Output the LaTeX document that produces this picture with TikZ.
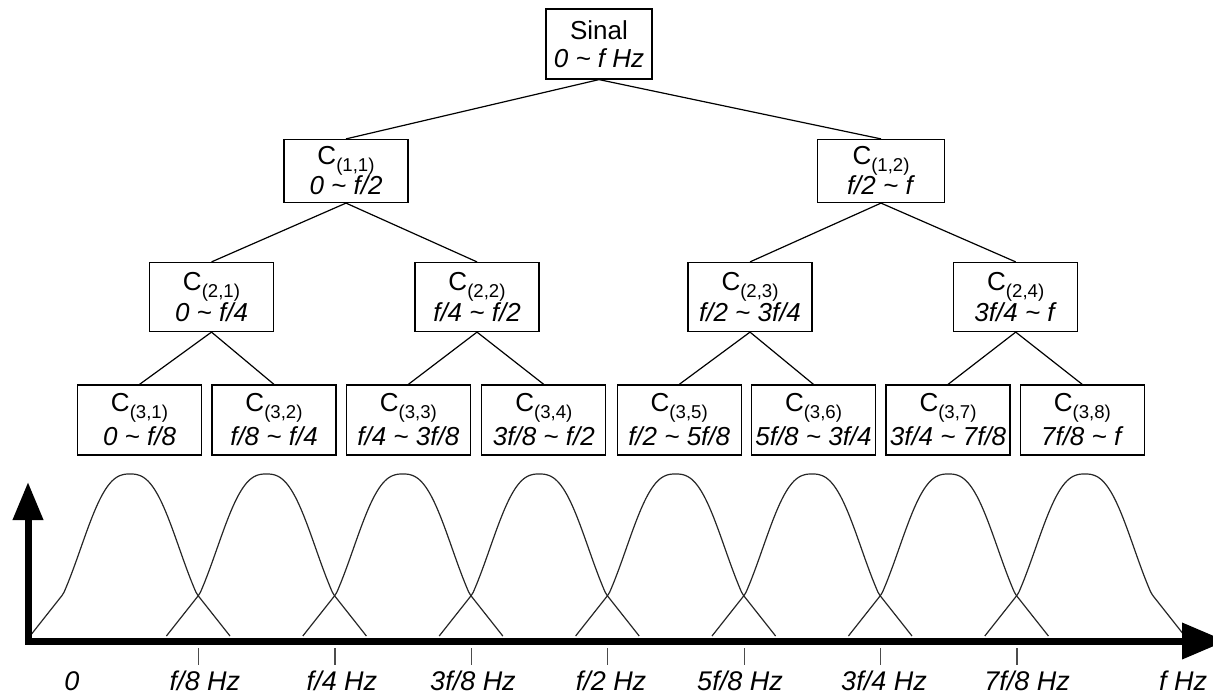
\documentclass[tikz,border=0pt]{standalone}
\usepackage{fontspec}
\setmainfont{Liberation Sans}
\usetikzlibrary{arrows.meta}
% band name with its (level,index) subscript
\newcommand{\cband}[2]{C\raisebox{-3.4pt}{\fontsize{9.3}{9.3}\selectfont(#1,#2)}}
\newcommand{\til}{\textasciitilde{}}

\begin{document}
\begin{tikzpicture}[x=0.5pt,y=-0.5pt,
  band/.style={rectangle,draw,line width=0.6pt,minimum width=62pt,minimum height=35pt,
               inner sep=0pt,align=center,font=\fontsize{13}{15}\selectfont},
  link/.style={line width=0.6pt},
  bell/.style={line width=0.6pt,black!85,domain=-100:100,samples=101,smooth},
  faxis/.style={line width=3.5pt,line join=miter,
               {Triangle[length=19pt,width=14.5pt]}-{Triangle[length=22pt,width=17.5pt]}},
  fmark/.style={line width=0.6pt,black!70},
  flabel/.style={font=\fontsize{13.5}{15}\selectfont\itshape,anchor=base},
  declare function={bump(\t)=ifthenelse(abs(\t)<66.7,exp(-1*pow(abs(\t)/59.5,2.6)),0.26*(100-abs(\t))/33.3);}]
\useasboundingbox (0,0) rectangle (1213,696);

% decomposition tree
\node[band,minimum width=53pt,font=\fontsize{13}{14}\selectfont] (sinal) at (599,44) {Sinal\\\textit{0 \til\ f Hz}};

\node[band,minimum height=31.5pt] (c11) at (346,171) {\cband{1}{1}\\\textit{0 \til\ f/2}};
\node[band,minimum height=31.5pt,minimum width=63.5pt] (c12) at (881,171) {\cband{1}{2}\\\textit{f/2 \til\ f}};

\node[band,minimum height=34.5pt,font=\fontsize{13}{14.5}\selectfont] (c21) at (211.5,297) {\cband{2}{1}\\\textit{0 \til\ f/4}};
\node[band,minimum height=34.5pt,font=\fontsize{13}{14.5}\selectfont] (c22) at (477,297) {\cband{2}{2}\\\textit{f/4 \til\ f/2}};
\node[band,minimum height=34.5pt,font=\fontsize{13}{14.5}\selectfont] (c23) at (750,297) {\cband{2}{3}\\\textit{f/2 \til\ 3f/4}};
\node[band,minimum height=34.5pt,font=\fontsize{13}{14.5}\selectfont] (c24) at (1015.7,297) {\cband{2}{4}\\\textit{3f/4 \til\ f}};

\node[band,font=\fontsize{13}{17}\selectfont] (c31) at (139.5,420)  {\cband{3}{1}\\\textit{0 \til\ f/8}};
\node[band,font=\fontsize{13}{17}\selectfont] (c32) at (274,420)    {\cband{3}{2}\\\textit{f/8 \til\ f/4}};
\node[band,font=\fontsize{13}{17}\selectfont] (c33) at (408.3,420)  {\cband{3}{3}\\\textit{f/4 \til\ 3f/8}};
\node[band,font=\fontsize{13}{17}\selectfont] (c34) at (543.8,420)  {\cband{3}{4}\\\textit{3f/8 \til\ f/2}};
\node[band,font=\fontsize{13}{17}\selectfont] (c35) at (679.2,420)  {\cband{3}{5}\\\textit{f/2 \til\ 5f/8}};
\node[band,font=\fontsize{13}{17}\selectfont] (c36) at (813.5,420)  {\cband{3}{6}\\\textit{5f/8 \til\ 3f/4}};
\node[band,font=\fontsize{13}{17}\selectfont] (c37) at (948,420)    {\cband{3}{7}\\\textit{3f/4 \til\ 7f/8}};
\node[band,font=\fontsize{13}{17}\selectfont] (c38) at (1082.3,420) {\cband{3}{8}\\\textit{7f/8 \til\ f}};

\draw[link] (sinal.south) -- (c11.north);
\draw[link] (sinal.south) -- (c12.north);
\draw[link] (c11.south) -- (c21.north);
\draw[link] (c11.south) -- (c22.north);
\draw[link] (c12.south) -- (c23.north);
\draw[link] (c12.south) -- (c24.north);
\draw[link] (c21.south) -- (c31.north);
\draw[link] (c21.south) -- (c32.north);
\draw[link] (c22.south) -- (c33.north);
\draw[link] (c22.south) -- (c34.north);
\draw[link] (c23.south) -- (c35.north);
\draw[link] (c23.south) -- (c36.north);
\draw[link] (c24.south) -- (c37.north);
\draw[link] (c24.south) -- (c38.north);

% pass bands of the last level
\draw[bell] plot ({130+\x},{636-162*bump(\x)});
\draw[bell] plot ({266.4+\x},{636-162*bump(\x)});
\draw[bell] plot ({402.8+\x},{636-162*bump(\x)});
\draw[bell] plot ({539.2+\x},{636-162*bump(\x)});
\draw[bell] plot ({675.6+\x},{636-162*bump(\x)});
\draw[bell] plot ({812+\x},{636-162*bump(\x)});
\draw[bell] plot ({948.4+\x},{636-162*bump(\x)});
\draw[bell] plot ({1084.8+\x},{636-162*bump(\x)});

% frequency axis
\coordinate (ytop) at (28,482);
\coordinate (orig) at (28,641);
\coordinate (xend) at (1226,641);
\draw[faxis] (ytop) -- (orig) -- (xend);

\draw[fmark] (198.5,648) -- (198.5,665);
\draw[fmark] (334.9,648) -- (334.9,665);
\draw[fmark] (471.3,648) -- (471.3,665);
\draw[fmark] (607.7,648) -- (607.7,665);
\draw[fmark] (744.1,648) -- (744.1,665);
\draw[fmark] (880.5,648) -- (880.5,665);
\draw[fmark] (1016.9,648) -- (1016.9,665);

\node[flabel] (f0) at (72,690)   {0};
\node[flabel] (f1) at (205,690)  {f/8 Hz};
\node[flabel] (f2) at (342,690)  {f/4 Hz};
\node[flabel] (f3) at (473,690)  {3f/8 Hz};
\node[flabel] (f4) at (611,690)  {f/2 Hz};
\node[flabel] (f5) at (740,690)  {5f/8 Hz};
\node[flabel] (f6) at (884,690)  {3f/4 Hz};
\node[flabel] (f7) at (1027,690) {7f/8 Hz};
\node[flabel] (f8) at (1183,690) {f Hz};
\end{tikzpicture}
\end{document}
